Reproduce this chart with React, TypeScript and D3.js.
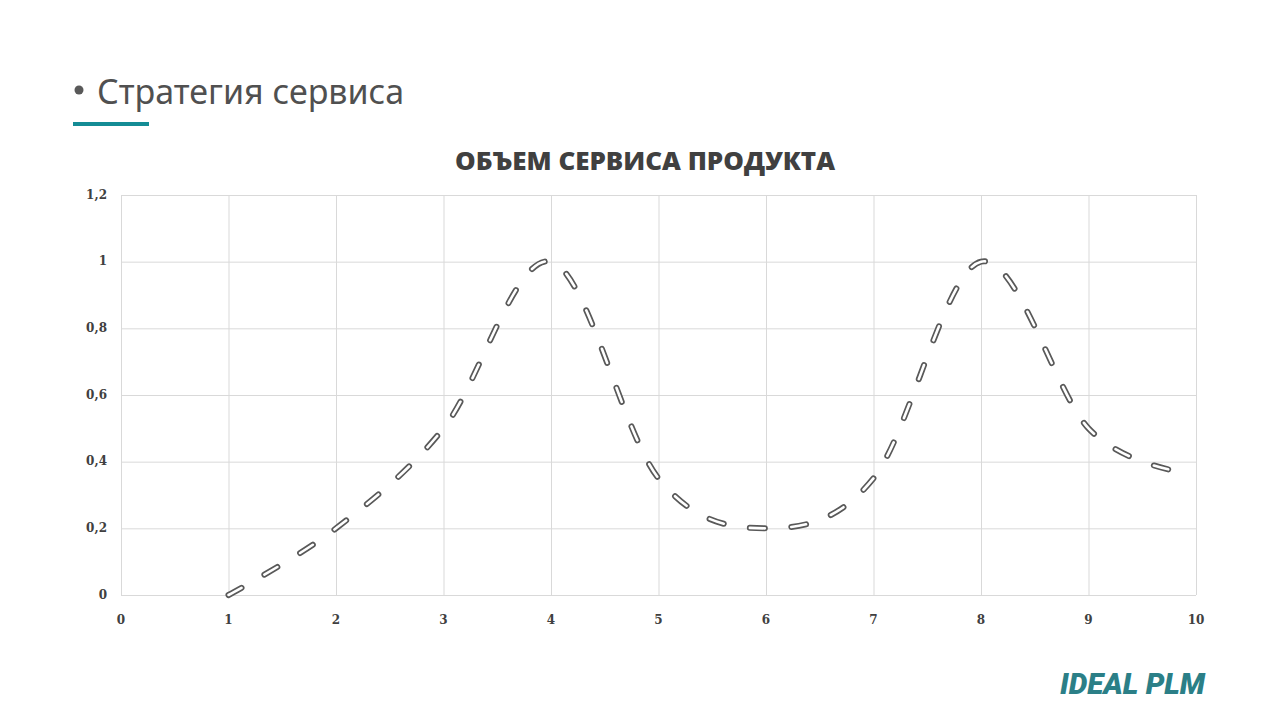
import * as d3 from "d3";
import { useEffect, useRef } from "react";

const xValues = [1, 2, 3, 4, 5, 6, 7, 8, 9, 9.85];
const yValues = [0, 0.2, 0.5, 1, 0.35, 0.2, 0.35, 1, 0.5, 0.37];
const xTicks = [0, 1, 2, 3, 4, 5, 6, 7, 8, 9, 10];
const yTicks = [0, 0.2, 0.4, 0.6, 0.8, 1, 1.2];

const heading = "Стратегия сервиса";
const chartTitle = "ОБЪЕМ СЕРВИСА ПРОДУКТА";
const logo = "IDEAL PLM";

const App = () => {
  const ref = useRef<SVGSVGElement>(null);

  useEffect(() => {
    const svg = d3.select(ref.current);
    svg.selectAll("*").remove();

    const width = 1280;
    const height = 720;
    const margin = { top: 195, right: 84, bottom: 125, left: 121 };

    svg.attr("width", width).attr("height", height);

    const x = d3.scaleLinear().domain([0, 10]).range([margin.left, width - margin.right]);
    const y = d3.scaleLinear().domain([0, 1.2]).range([height - margin.bottom, margin.top]);

    // slide heading
    svg.append("circle").attr("cx", 79).attr("cy", 90).attr("r", 4.5).attr("fill", "#595959");
    svg
      .append("text")
      .attr("x", 97)
      .attr("y", 104)
      .attr("font-family", "'Noto Sans', sans-serif")
      .attr("font-size", 34)
      .attr("fill", "#505050")
      .text(heading);
    svg.append("rect").attr("x", 73).attr("y", 122).attr("width", 76).attr("height", 4).attr("fill", "#148C95");

    // chart title
    svg
      .append("text")
      .attr("x", 645)
      .attr("y", 170)
      .attr("text-anchor", "middle")
      .attr("font-family", "'Open Sans', sans-serif")
      .attr("font-weight", 800)
      .attr("font-size", 25)
      .attr("fill", "#404040")
      .attr("textLength", 380)
      .attr("lengthAdjust", "spacingAndGlyphs")
      .text(chartTitle);

    // grid
    const grid = svg.append("g").attr("stroke", "#d9d9d9").attr("stroke-width", 1);
    grid
      .selectAll("line.v")
      .data(xTicks)
      .enter()
      .append("line")
      .attr("x1", (d) => x(d) + 0.5)
      .attr("x2", (d) => x(d) + 0.5)
      .attr("y1", y(1.2))
      .attr("y2", y(0));
    grid
      .selectAll("line.h")
      .data(yTicks)
      .enter()
      .append("line")
      .attr("x1", x(0))
      .attr("x2", x(10))
      .attr("y1", (d) => y(d) + 0.5)
      .attr("y2", (d) => y(d) + 0.5);

    const fmt = (d: number) => String(d).replace(".", ",");

    // y labels
    svg
      .append("g")
      .selectAll("text")
      .data(yTicks)
      .enter()
      .append("text")
      .attr("x", 107)
      .attr("y", (d) => y(d))
      .attr("dy", "0.3em")
      .attr("text-anchor", "end")
      .attr("font-family", "'DejaVu Serif', serif")
      .attr("font-weight", 700)
      .attr("font-size", 12)
      .attr("fill", "#404040")
      .text(fmt);

    // x labels
    svg
      .append("g")
      .selectAll("text")
      .data(xTicks)
      .enter()
      .append("text")
      .attr("x", (d) => x(d))
      .attr("y", 624)
      .attr("text-anchor", "middle")
      .attr("font-family", "'DejaVu Serif', serif")
      .attr("font-weight", 700)
      .attr("font-size", 12)
      .attr("fill", "#404040")
      .text(fmt);

    // smoothed dashed line, outlined
    const pts: [number, number][] = xValues.map((v, i) => [v, yValues[i]]);
    const line = d3
      .line<[number, number]>()
      .x((d) => x(d[0]))
      .y((d) => y(d[1]))
      .curve(d3.curveCardinal.tension(0));

    svg
      .append("path")
      .datum(pts)
      .attr("d", line)
      .attr("fill", "none")
      .attr("stroke", "#595959")
      .attr("stroke-width", 6)
      .attr("stroke-linecap", "round")
      .attr("stroke-dasharray", "15 26.5");
    svg
      .append("path")
      .datum(pts)
      .attr("d", line)
      .attr("fill", "none")
      .attr("stroke", "#ffffff")
      .attr("stroke-width", 2.6)
      .attr("stroke-linecap", "round")
      .attr("stroke-dasharray", "15 26.5");

    // logo
    svg
      .append("text")
      .attr("x", 1060)
      .attr("y", 694)
      .attr("font-family", "Roboto, sans-serif")
      .attr("font-weight", 900)
      .attr("font-style", "italic")
      .attr("font-size", 29)
      .attr("fill", "#2B7F87")
      .attr("textLength", 145)
      .attr("lengthAdjust", "spacingAndGlyphs")
      .text(logo);
  }, []);

  return <svg ref={ref} style={{ position: "absolute", left: 0, top: 0, background: "#fff" }}></svg>;
};

export default App;
